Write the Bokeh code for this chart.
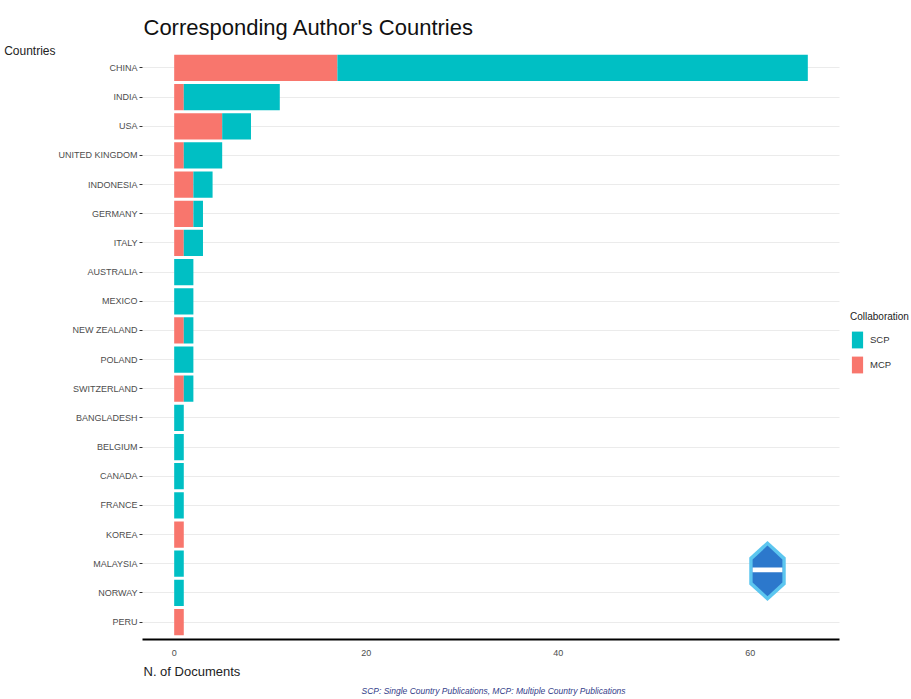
from bokeh.plotting import figure
from bokeh.models import (Range1d, Legend, LegendItem, Title,
                          ColumnDataSource, FixedTicker)
from bokeh.embed import file_html
from bokeh.resources import INLINE

countries = ["CHINA", "INDIA", "USA", "UNITED KINGDOM", "INDONESIA", "GERMANY",
             "ITALY", "AUSTRALIA", "MEXICO", "NEW ZEALAND", "POLAND", "SWITZERLAND",
             "BANGLADESH", "BELGIUM", "CANADA", "FRANCE", "KOREA", "MALAYSIA",
             "NORWAY", "PERU"]
scp = [49, 10, 3, 4, 2, 1, 2, 2, 2, 1, 2, 1, 1, 1, 1, 1, 0, 1, 1, 0]
mcp = [17, 1, 5, 1, 2, 2, 1, 0, 0, 1, 0, 1, 0, 0, 0, 0, 1, 0, 0, 1]
x_ticks = [0, 20, 40, 60]

SCP_COLOR = "#00BFC4"
MCP_COLOR = "#F8766D"
FONT = "Liberation Sans"

n = len(countries)
ypos = [n - i for i in range(n)]          # CHINA on top
total_max = max(s + m for s, m in zip(scp, mcp))
pad = total_max * 0.05
x_lo, x_hi = -pad, total_max + pad

# layout geometry (pixels)
W, H = 911, 699
LEFT, PANEL_RIGHT = 142, 839
frame_w = W - LEFT
x_view_hi = x_lo + (x_hi - x_lo) * frame_w / (PANEL_RIGHT - LEFT)

src = ColumnDataSource(dict(y=ypos, country=countries, SCP=scp, MCP=mcp))

p = figure(width=W, height=H, output_backend="svg", toolbar_location=None,
           x_range=Range1d(x_lo, x_view_hi),
           y_range=Range1d(0.4, n + 0.6),
           min_border_left=LEFT, min_border_right=0, min_border_top=50,
           min_border_bottom=60)
p.outline_line_color = None
p.background_fill_color = "white"
p.border_fill_color = "white"

p.title.text = "Corresponding Author's Countries"
p.title.text_font = FONT
p.title.text_font_size = "22px"
p.title.text_font_style = "normal"
p.title.text_color = "#111111"
p.title.align = "left"
p.title.offset = 1
p.title.standoff = 22

rs = p.hbar_stack(["MCP", "SCP"], y="y", height=0.9,
                  color=[MCP_COLOR, SCP_COLOR], line_color=None, source=src)
mcp_r, scp_r = rs

# grids
p.xgrid.grid_line_color = None
p.ygrid.grid_line_color = "#ebebeb"
p.ygrid.grid_line_width = 1
try:
    p.ygrid[0].cross_bounds = (x_lo, x_hi)
except Exception:
    pass

# x axis
xa = p.xaxis[0]
xa.ticker = FixedTicker(ticks=x_ticks)
xa.bounds = (x_lo, x_hi)
xa.axis_line_color = "black"
xa.axis_line_width = 2
xa.major_tick_line_color = None
xa.minor_tick_line_color = None
xa.major_label_text_font = FONT
xa.major_label_text_font_size = "9px"
xa.major_label_text_color = "#4d4d4d"
xa.major_label_standoff = 4

# y axis
ya = p.yaxis[0]
ya.ticker = FixedTicker(ticks=ypos)
ya.major_label_overrides = {yy: c for yy, c in zip(ypos, countries)}
ya.axis_line_color = None
ya.major_tick_line_color = "#333333"
ya.major_tick_out = 3
ya.major_tick_in = 0
ya.minor_tick_line_color = None
ya.major_label_text_font = FONT
ya.major_label_text_font_size = "9px"
ya.major_label_text_color = "#4d4d4d"
ya.major_label_standoff = 2

# y axis title, horizontal, at the top end of the axis
ya.axis_label = "Countries"
ya.axis_label_text_font = FONT
ya.axis_label_text_font_size = "12px"
ya.axis_label_text_font_style = "normal"
ya.axis_label_text_color = "#222222"
ya.axis_label_orientation = "horizontal"
ya.axis_label_standoff = 0
try:
    ya.axis_label_align = "end"
    ya.axis_label_text_baseline = "top"
except Exception:
    pass

# x axis title and caption below
p.add_layout(Title(text="N. of Documents", text_font=FONT, text_font_size="13px",
                   text_font_style="normal", text_color="#222222",
                   align="left", offset=1, standoff=6), "below")
p.add_layout(Title(text="SCP: Single Country Publications, MCP: Multiple Country Publications",
                   text_font=FONT, text_font_size="8.5px", text_font_style="italic",
                   text_color="#33408a", align="left", offset=219, standoff=4), "below")

# logo (decorative hexagon)
cx, cy, w, h = 61.8, 2.75, 1.9, 1.03
p.patch([cx, cx + w, cx + w, cx, cx - w, cx - w],
        [cy + h, cy + h * 0.45, cy - h * 0.45, cy - h, cy - h * 0.45, cy + h * 0.45],
        fill_color="#5cc6ef", line_color=None)
w2, h2 = 1.55, 0.87
p.patch([cx, cx + w2, cx + w2, cx, cx - w2, cx - w2],
        [cy + h2, cy + h2 * 0.45, cy - h2 * 0.45, cy - h2, cy - h2 * 0.45, cy + h2 * 0.45],
        fill_color="#2c78cc", line_color=None)
p.patch([cx - w2, cx + w2, cx + w2, cx - w2],
        [cy + 0.12, cy + 0.12, cy - 0.04, cy - 0.04],
        fill_color="white", line_color=None)

legend = Legend(items=[LegendItem(label="SCP", renderers=[scp_r]),
                       LegendItem(label="MCP", renderers=[mcp_r])],
                title="Collaboration", location=(850 - LEFT, 264),
                glyph_width=14, glyph_height=21, label_height=21,
                spacing=4, padding=0, margin=0, label_standoff=6,
                border_line_color=None, background_fill_alpha=0)
legend.title_text_font = FONT
legend.title_text_font_size = "10px"
legend.title_text_font_style = "normal"
legend.title_text_color = "#222222"
legend.title_standoff = 7
legend.label_text_font = FONT
legend.label_text_font_size = "9.5px"
legend.label_text_color = "#333333"
p.add_layout(legend, "center")

open("out.html", "w").write(file_html(p, INLINE))
